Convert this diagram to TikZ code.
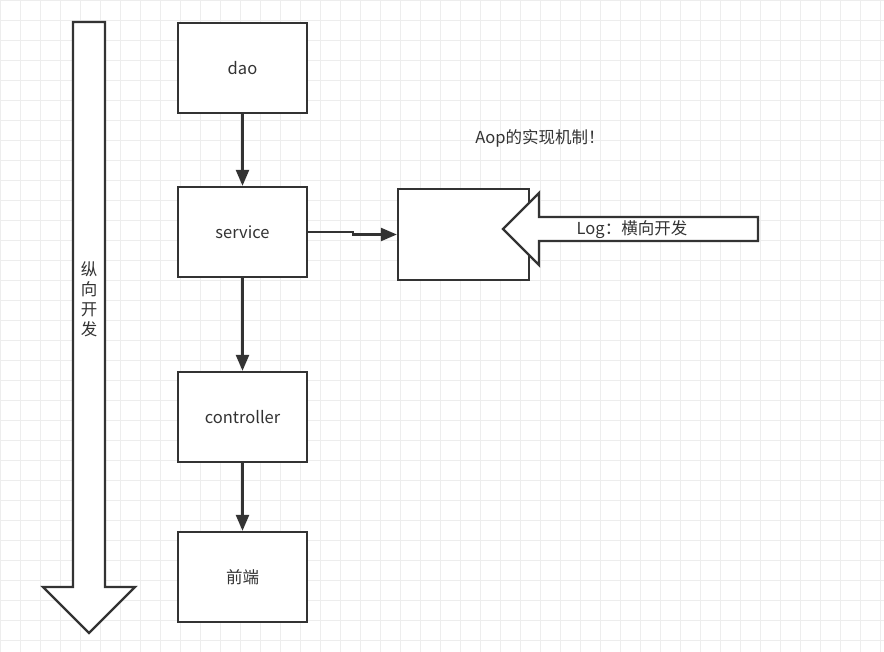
\documentclass[tikz,border=0pt]{standalone}
\usepackage{fontspec}
\setmainfont{Noto Sans CJK SC}
\usetikzlibrary{positioning, arrows.meta}
\definecolor{inkgray}{HTML}{333333}
\tikzset{
    grid_line/.style={line width=0.8pt, black!7},
    layer_box/.style={draw=inkgray, line width=2.3pt, fill=white, inner sep=0pt,
        minimum width=129pt, minimum height=90pt, text=inkgray, font=\fontsize{16.5}{20}\selectfont},
    flow_arrow/.style={-{Triangle[length=16pt, width=13pt]}, line width=2.3pt, draw=inkgray},
    big_arrow/.style={draw=inkgray, line width=2.3pt, fill=white, line join=miter},
    note_text/.style={text=inkgray, font=\fontsize{16.5}{20}\selectfont, inner sep=0pt}
}

\begin{document}
\begin{tikzpicture}[x=1pt, y=-1pt]
        \useasboundingbox (0,0) rectangle (884,652);
        \fill[white] (0,0) rectangle (884,652);
        % background grid
        \foreach \gx in {0,20,...,880}
            \draw[grid_line] (\gx,0) -- (\gx,652);
        \foreach \gy in {0,20,...,640}
            \draw[grid_line] (0,\gy) -- (884,\gy);
        % vertical development arrow
        \draw[big_arrow] (73,22) -- (105,22) -- (105,587) -- (135,587) -- (89,633)
            -- (43,587) -- (73,587) -- cycle;
        \node[note_text, align=center] (vert_label) at (89,299) {纵\\向\\开\\发};
        % layers
        \node[layer_box] (dao) at (242.5,68) {\raisebox{-2pt}{dao}};
        \node[layer_box] (service) at (242.5,232) {service};
        \node[layer_box] (controller) at (242.5,417) {controller};
        \node[layer_box] (front) at (242.5,577) {前端};
        \draw[flow_arrow] (dao) -- (service);
        \draw[flow_arrow] (service) -- (controller);
        \draw[flow_arrow] (controller) -- (front);
        % aspect
        \node[layer_box, minimum width=131pt, minimum height=91pt] (aspect) at (463.5,234.5) {};
        \draw[flow_arrow] (service.east) -- ++(45,0) |- (aspect.west);
        \draw[big_arrow] (503,229) -- (539,193) -- (539,217) -- (758,217) -- (758,241)
            -- (539,241) -- (539,265) -- cycle;
        \node[note_text] (log_label) at (632,230) {Log：横向开发};
        \node[note_text] (aop_note) at (540,138) {Aop的实现机制！};
    \end{tikzpicture}
\end{document}
